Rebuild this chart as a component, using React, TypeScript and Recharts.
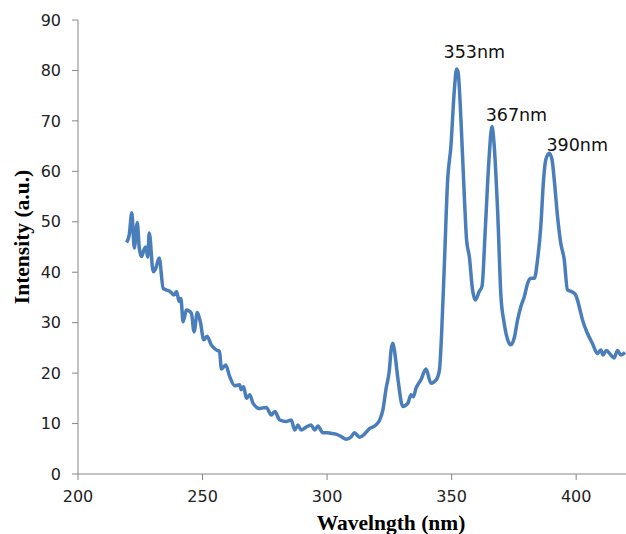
import { LineChart, Line, XAxis, YAxis, Label, ReferenceDot } from 'recharts';

const wavelengths = [
  219.5, 220.6, 221.6, 222.6, 223.8, 224.6, 225.5, 226.5, 227.2, 228, 228.6, 230.2, 231, 232.6, 234.2,
  236.9, 238.5, 239.6, 240.6, 241.3, 242.2, 243.5, 245.5, 246.6, 247.9, 249.1, 250.5, 251.8, 253.5,
  255.5, 256.8, 257.6, 259.3, 260.9, 262.9, 264.9, 265.5, 266.5, 267.6, 268.9, 270.3, 272.9, 275.6,
  277.6, 279, 281, 283.6, 285.6, 287, 288.3, 289.6, 291.6, 293.6, 295, 296.3, 298.3, 300.3, 302.3,
  303.6, 305.7, 307.7, 309.7, 311, 313, 315, 317, 319, 321, 322.4, 323.7, 325, 325.7, 326.4, 327,
  328.4, 330.4, 332.4, 333.7, 334.6, 335.7, 337.7, 339.7, 341.7, 343.7, 345.1, 345.9, 347.1, 348.4,
  349.7, 351.1, 352, 352.6, 353.8, 355.1, 356, 357.1, 358.4, 359.5, 361.1, 362.2, 363.5, 364.9, 366.2,
  366.9, 368.5, 369.8, 371.1, 372.5, 373.8, 375.1, 376.5, 377.8, 379.2, 380.5, 381.8, 383.2, 384.5,
  385.8, 386.9, 387.8, 389.2, 390.3, 391.2, 392.5, 393.8, 395.2, 396.5, 397.9, 399.8, 401.2, 402.5,
  404.5, 406.5, 408.5, 409.9, 410.8, 412.1, 413.9, 415.2, 416.6, 417.9, 419.6,
];

const intensities = [
  45.9, 47.5, 51.8, 44.8, 49.8, 44.8, 43.1, 44.5, 45, 43, 47.8, 40.1, 40.5, 42.8, 36.8,
  36.2, 35.5, 36.2, 34.2, 34.8, 30.2, 32.5, 31.9, 28.2, 32, 30.2, 26.6, 27.3, 25.6,
  24.6, 24.3, 20.8, 21.6, 19.3, 17.5, 17.7, 16.7, 17.3, 15, 15.7, 14, 13, 13.2,
  11.7, 12.4, 10.7, 10.4, 10.7, 8.7, 9.7, 8.7, 9.3, 9.7, 8.7, 9.5, 8.2, 8.2, 8,
  7.9, 7.4, 6.9, 7.4, 8.2, 7.3, 7.9, 9, 9.5, 10.6, 12.7, 17, 20.6, 24.6, 25.9, 24.6,
  19, 13.4, 14, 15.7, 15.3, 17, 18.7, 20.8, 18, 18.6, 20.6, 27, 41.8, 58.3,
  64.9, 76.2, 80.3, 79.6, 69.6, 55, 46.4, 43.1, 36.5, 34.5, 36.2, 37.2, 48.4, 61.6, 68.9,
  66.3, 51.7, 35.2, 29.9, 26.6, 25.6, 26.9, 30.6, 33.2, 35.2, 37.8, 38.8, 38.8, 42.5,
  49.1, 58.3, 62.3, 63.6, 62.3, 58.3, 51.1, 45.8, 42.5, 36.5, 36.2, 35.5, 33.2, 30.6,
  27.9, 25.9, 23.9, 24.6, 23.6, 24.5, 23.6, 23, 24.5, 23.6, 24.1,
];

const xTicks = [200, 250, 300, 350, 400];
const yTicks = [0, 10, 20, 30, 40, 50, 60, 70, 80, 90];

// peak annotations: text, label centre (wavelength, intensity)
const peakLabels = ['353nm', '367nm', '390nm'];
const peakLabelX = [359.1, 376.0, 400.4];
const peakLabelY = [83.7, 71.2, 65.3];

const data = wavelengths.map((w, i) => ({ w, v: intensities[i] }));

const axisColor = '#868686';
const tickStyle = { fontSize: 16, fill: '#222', fontFamily: 'DejaVu Sans, Verdana, sans-serif' };
const titleStyle = { fontFamily: 'Liberation Serif, Times New Roman, serif', fontWeight: 'bold', fontSize: 21.5, fill: '#000' };

export default function App() {
  return (
    <div style={{ position: 'absolute', left: 0, top: 0, background: '#fff' }}>
      <LineChart
        width={626}
        height={534}
        data={data}
        margin={{ top: 20, right: 0, bottom: 0, left: 0 }}
      >
        <XAxis
          dataKey="w"
          type="number"
          domain={[200, 420]}
          ticks={xTicks}
          allowDataOverflow
          stroke={axisColor}
          tick={tickStyle}
          tickSize={6}
          tickMargin={11}
          height={60}
        >
          <Label
            content={({ viewBox }: any) => (
              <text x={391} y={viewBox.y + 56} textAnchor="middle" style={titleStyle}>
                Wavelngth (nm)
              </text>
            )}
          />
        </XAxis>
        <YAxis
          type="number"
          domain={[0, 90]}
          ticks={yTicks}
          stroke={axisColor}
          tick={tickStyle}
          tickSize={6}
          tickMargin={11}
          width={78}
        >
          <Label
            content={() => (
              <text x={29} y={237} transform="rotate(-90 29 237)" textAnchor="middle" style={titleStyle}>
                Intensity (a.u.)
              </text>
            )}
          />
        </YAxis>
        <Line
          type="monotone"
          dataKey="v"
          stroke="#4A7EBB"
          strokeWidth={3.5}
          dot={false}
          isAnimationActive={false}
        />
        {peakLabels.map((t, i) => (
          <ReferenceDot
            key={t}
            x={peakLabelX[i]}
            y={peakLabelY[i]}
            r={0}
            fill="none"
            stroke="none"
            label={{
              value: t,
              position: 'center',
              fontSize: 17.5,
              fill: '#111',
              fontFamily: 'DejaVu Sans, Verdana, sans-serif',
            }}
          />
        ))}
      </LineChart>
    </div>
  );
}
